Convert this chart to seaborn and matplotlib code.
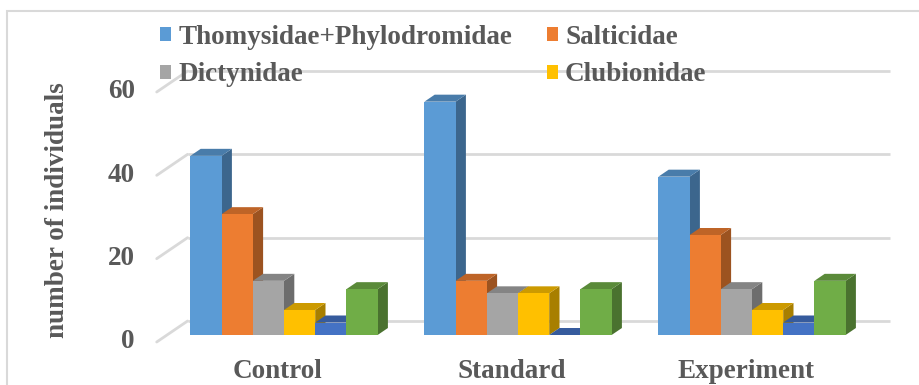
import matplotlib
matplotlib.use("Agg")
import matplotlib.pyplot as plt
import matplotlib.transforms as mtransforms
from matplotlib.patches import Polygon, Rectangle, Patch
from matplotlib.colors import to_rgb
import pandas as pd
import seaborn as sns

# ---- data -------------------------------------------------------------
sites = ["Control", "Standard", "Experiment"]
families = ["Thomysidae+Phylodromidae", "Salticidae", "Dictynidae",
            "Clubionidae", "Series5", "Series6"]
thomysidae = [43, 56, 38]
salticidae = [29, 13, 24]
dictynidae = [13, 10, 11]
clubionidae = [6, 10, 6]
series5 = [3, 0, 3]
series6 = [11, 11, 13]
y_ticks = [0, 20, 40, 60]
colors = ["#5B9BD5", "#ED7D31", "#A5A5A5", "#FFC000", "#4472C4", "#70AD47"]
# legend entries in column-major order (two columns)
legend_order = ["Thomysidae+Phylodromidae", "Dictynidae", "Salticidae", "Clubionidae"]

values = [thomysidae, salticidae, dictynidae, clubionidae, series5, series6]
df = pd.DataFrame(
    [(s, fam, vals[i]) for fam, vals in zip(families, values) for i, s in enumerate(sites)],
    columns=["site", "family", "count"],
)

# ---- figure set-up ----------------------------------------------------
W, H, DPI = 919, 385, 100
sns.set_theme(style="white")
plt.rcParams["font.family"] = ["Liberation Serif", "DejaVu Serif"]
TEXT = "#595959"
GRID = "#D9D9D9"
FS = 19.5

fig = plt.figure(figsize=(W / DPI, H / DPI), dpi=DPI)

# the axes covers the plane of the bar fronts
left_px, right_px = 167, 869
zero_px, top_px = 335, 85
ax = fig.add_axes([left_px / W, (H - zero_px) / H,
                   (right_px - left_px) / W, (zero_px - top_px) / H])

sns.barplot(data=df, x="site", y="count", hue="family", hue_order=families,
            order=sites, palette=colors, saturation=1, width=0.8,
            errorbar=None, legend=False, linewidth=0, ax=ax)
ax.set_xlim(-0.5, 2.5)
ax.set_ylim(0, 60)
ax.set_axis_off()

# depth step (pixels) and its size in data units
DX_PX, DY_PX = 10.3, 7.0
px_x = (right_px - left_px) / 3.0
px_y = (zero_px - top_px) / 60.0
ddx, ddy = DX_PX / px_x, DY_PX / px_y


def shade(c, f):
    r, g, b = to_rgb(c)
    return (r * f, g * f, b * f)


# ---- back wall grid and left wall diagonals ---------------------------
for v in y_ticks:
    ax.plot([-0.5 + 2 * ddx, 2.5 + 2 * ddx], [v + 2 * ddy] * 2,
            color=GRID, lw=2, zorder=0, clip_on=False, solid_capstyle="butt")
    ax.plot([-0.5 - ddx, -0.5 + 2 * ddx], [v - ddy, v + 2 * ddy],
            color=GRID, lw=2, zorder=0, clip_on=False)
    # tick label on the front plane
    ax.text(-0.5 - ddx - 22 / px_x, v - ddy, f"{v}", ha="right", va="center",
            fontsize=FS, fontweight="bold", color=TEXT, clip_on=False)

# ---- 3-D faces for each bar --------------------------------------------
bars = sorted(ax.patches, key=lambda p: p.get_x())
for i, p in enumerate(bars):
    x, w, h = p.get_x(), p.get_width(), p.get_height()
    col = p.get_facecolor()
    z = 2 + i * 0.1
    side = Polygon([(x + w, 0), (x + w, h), (x + w + ddx, h + ddy), (x + w + ddx, ddy)],
                   closed=True, facecolor=shade(col, 0.66), edgecolor="none",
                   zorder=z, clip_on=False)
    top = Polygon([(x, h), (x + w, h), (x + w + ddx, h + ddy), (x + ddx, h + ddy)],
                  closed=True, facecolor=shade(col, 0.8), edgecolor="none",
                  zorder=z + 0.01, clip_on=False)
    ax.add_patch(side)
    ax.add_patch(top)
    p.set_zorder(z + 0.02)
    p.set_clip_on(False)

# ---- category labels ---------------------------------------------------
blend = mtransforms.blended_transform_factory(ax.transData, fig.transFigure)
for i, s in enumerate(sites):
    ax.text(i - 6 / px_x, 6.5 / H, s, transform=blend, ha="center", va="baseline",
            fontsize=FS, fontweight="bold", color=TEXT, clip_on=False)

# ---- axis title ---------------------------------------------------------
fig.text(58 / W, 1 - 210 / H, "number of individuals", rotation=90,
         ha="center", va="center", fontsize=FS, fontweight="bold", color=TEXT)

# ---- legend -------------------------------------------------------------
color_of = dict(zip(families, colors))
handles = [Patch(facecolor=color_of[f], edgecolor="none") for f in legend_order]
fig.legend(handles, legend_order, loc="upper left",
           bbox_to_anchor=(160 / W, 1 - 25 / H), ncol=2, frameon=False,
           prop={"size": FS, "weight": "bold"}, labelcolor=TEXT,
           handlelength=0.4, handleheight=0.4, handletextpad=0.28,
           columnspacing=1.27, labelspacing=0.46, borderpad=0, borderaxespad=0)

# ---- chart border -------------------------------------------------------
fig.add_artist(Rectangle((7 / W, -0.1), 1.2, (H - 11) / H + 0.1,
                         transform=fig.transFigure, fill=False,
                         edgecolor=GRID, lw=1.5))

fig.savefig("out.png", dpi=DPI)
